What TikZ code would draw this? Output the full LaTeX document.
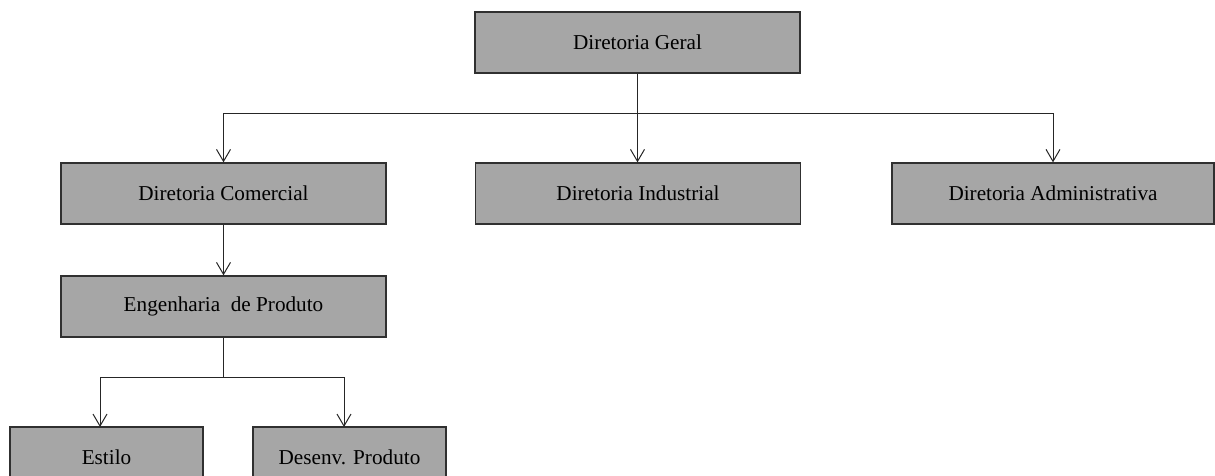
\documentclass[tikz,border=0pt]{standalone}
\usepackage{fontspec}
\setmainfont{Liberation Serif}
\usepackage{xcolor}
\usepackage{tikz}
\usetikzlibrary{arrows.meta}
\usetikzlibrary{positioning}
\definecolor{cinza}{HTML}{A6A6A6}
\definecolor{borda}{HTML}{303030}

\begin{document}
\begin{tikzpicture}[x=1pt,y=-1pt]
\tikzset{
    orgbox/.style  = {rectangle, draw=borda, line width=1.3pt, fill=cinza, align=center, minimum width=325pt, minimum height=61pt, inner sep=0pt, font=\fontsize{21.2}{25}\selectfont},
    smallbox/.style = {orgbox, minimum width=193pt},
    link/.style    = {draw=black!85, line width=1pt},
    arrowlink/.style = {link, -{Straight Barb[length=12pt,width=14pt,line width=1pt]}}
}
\useasboundingbox (0,0) rectangle (1215,475);
\clip (0,0) rectangle (1215,475);
\node [orgbox] (geral) at (637.5,42.5) {Diretoria Geral};
\node [orgbox] (comercial) at (223.5,193.5) {Diretoria Comercial};
\node [orgbox] (industrial) at (638,193.5) {Diretoria Industrial};
\node [orgbox, minimum width=322pt] (administrativa) at (1053,193.5) {Diretoria Administrativa};
\node [orgbox] (engenharia) at (223.5,306.5) {Engenharia\ \ de Produto};
\node [smallbox] (estilo) at (106.5,457.5) {Estilo};
\node [smallbox] (desenv) at (349.5,457.5) {Desenv. Produto};
\coordinate (geralbus) at (637.5,113);
\coordinate (engbus) at (223.5,377);
\coordinate (estilotop) at (100,427);
\coordinate (desenvtop) at (344,427);
\draw [link] (geral) -- (geralbus);
\draw [arrowlink] (geralbus) -| (comercial);
\draw [arrowlink] (geralbus) -- (geralbus |- industrial.north);
\draw [arrowlink] (geralbus) -| (administrativa);
\draw [arrowlink] (comercial) -- (engenharia);
\draw [link] (engenharia) -- (engbus);
\draw [arrowlink] (engbus) -| (estilotop);
\draw [arrowlink] (engbus) -| (desenvtop);
\end{tikzpicture}
\end{document}
